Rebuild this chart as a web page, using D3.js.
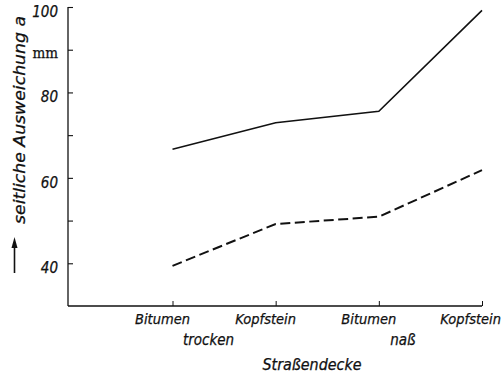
<!DOCTYPE html>
<html>
<head>
<meta charset="utf-8">
<script src="https://cdn.jsdelivr.net/npm/d3@7"></script>
<style>
  html, body { margin: 0; padding: 0; background: #fff; }
  svg { display: block; }
  text { font-family: "DejaVu Sans Condensed", "Liberation Sans Narrow", sans-serif; font-style: italic; fill: #111; stroke: #111; stroke-width: 0.25; }
</style>
</head>
<body>
<div id="chart"></div>
<script>
// Kategorien (Straßendecke) und Zustände
const categories = ["Bitumen trocken", "Kopfstein trocken", "Bitumen naß", "Kopfstein naß"];
const categoryLabels = ["Bitumen", "Kopfstein", "Bitumen", "Kopfstein"];
const groupLabels = ["trocken", "naß"];

// seitliche Ausweichung a in mm
const upperSeries = [66.7, 72.9, 75.6, 99.2];
const lowerSeries = [39.4, 49.2, 50.9, 61.8];

const yTicks = [40, 50, 60, 70, 80, 90, 100];
const yTickLabels = { 40: "40", 60: "60", 80: "80", 90: "mm", 100: "100" };

const width = 503, height = 375;
const svg = d3.select("#chart").append("svg")
    .attr("width", width)
    .attr("height", height);

const axisLeftX = 68, axisBottomY = 306;

const x = d3.scalePoint().domain(categories).range([172.5, 482]);
const y = d3.scaleLinear().domain([30, 100]).range([axisBottomY, 7]);

// y-Achse
const yAxis = svg.append("g")
    .attr("transform", `translate(${axisLeftX},0)`)
    .call(d3.axisRight(y).tickValues(yTicks).tickSize(5).tickFormat(""));
yAxis.select(".domain").attr("d", `M0,${y(100)}V${axisBottomY}`).attr("stroke", "#111").attr("stroke-width", 1.3);
yAxis.selectAll(".tick line").attr("stroke", "#111").attr("stroke-width", 1.1);

svg.append("g").selectAll("text")
    .data(yTicks.filter(d => yTickLabels[d]))
    .enter().append("text")
    .attr("x", axisLeftX - 10)
    .attr("y", d => y(d) + (d === 90 ? 8 : 10))
    .attr("text-anchor", "end")
    .attr("font-size", d => d === 90 ? 15 : 15)
    .style("font-style", d => d === 90 ? "normal" : "italic")
    .style("font-family", d => d === 90 ? "'DejaVu Serif Condensed', 'Liberation Serif', serif" : null)
    .text(d => yTickLabels[d]);

// x-Achse
const xAxis = svg.append("g")
    .attr("transform", `translate(0,${axisBottomY})`)
    .call(d3.axisTop(x).tickSize(5).tickFormat(""));
xAxis.select(".domain").attr("d", `M${axisLeftX},0H482`).attr("stroke", "#111").attr("stroke-width", 1.3);
xAxis.selectAll(".tick line").attr("stroke", "#111").attr("stroke-width", 1);

// Beschriftung leicht links vom Strich, letzte bis an den Rand
svg.append("g").selectAll("text")
    .data(categories)
    .enter().append("text")
    .attr("x", (d, i) => i === categories.length - 1 ? 501 : x(d) - 10)
    .attr("y", 324)
    .attr("text-anchor", (d, i) => i === categories.length - 1 ? "end" : "middle")
    .attr("font-size", 14.5)
    .text((d, i) => categoryLabels[i]);

// Gruppenbeschriftung unter den Kategorien
const groupX = [x(categories[0]) + 36, x(categories[2]) + 24];
svg.append("g").selectAll("text")
    .data(groupLabels)
    .enter().append("text")
    .attr("x", (d, i) => groupX[i])
    .attr("y", 345)
    .attr("text-anchor", "middle")
    .attr("font-size", 15)
    .text(d => d);

svg.append("text")
    .attr("x", 312)
    .attr("y", 370)
    .attr("text-anchor", "middle")
    .attr("font-size", 15)
    .attr("textLength", 99)
    .attr("lengthAdjust", "spacingAndGlyphs")
    .text("Straßendecke");

// y-Achsentitel mit Pfeil
svg.append("text")
    .attr("transform", "translate(25,120) rotate(-90)")
    .attr("text-anchor", "middle")
    .attr("font-size", 16)
    .attr("textLength", 208)
    .attr("lengthAdjust", "spacingAndGlyphs")
    .text("seitliche Ausweichung a");

svg.append("line")
    .attr("x1", 14.5).attr("x2", 14.5)
    .attr("y1", 273).attr("y2", 246)
    .attr("stroke", "#111").attr("stroke-width", 1.6);
svg.append("path")
    .attr("d", "M14.5,237L11.5,248L17.5,248Z")
    .attr("fill", "#111");

// Linien
const line = d3.line()
    .x((d, i) => x(categories[i]))
    .y(d => y(d));

svg.append("path")
    .datum(upperSeries)
    .attr("d", line)
    .attr("fill", "none")
    .attr("stroke", "#111")
    .attr("stroke-width", 1.6);

svg.append("path")
    .datum(lowerSeries)
    .attr("d", line)
    .attr("fill", "none")
    .attr("stroke", "#111")
    .attr("stroke-width", 2)
    .attr("stroke-dasharray", "10,4.5");
</script>
</body>
</html>
